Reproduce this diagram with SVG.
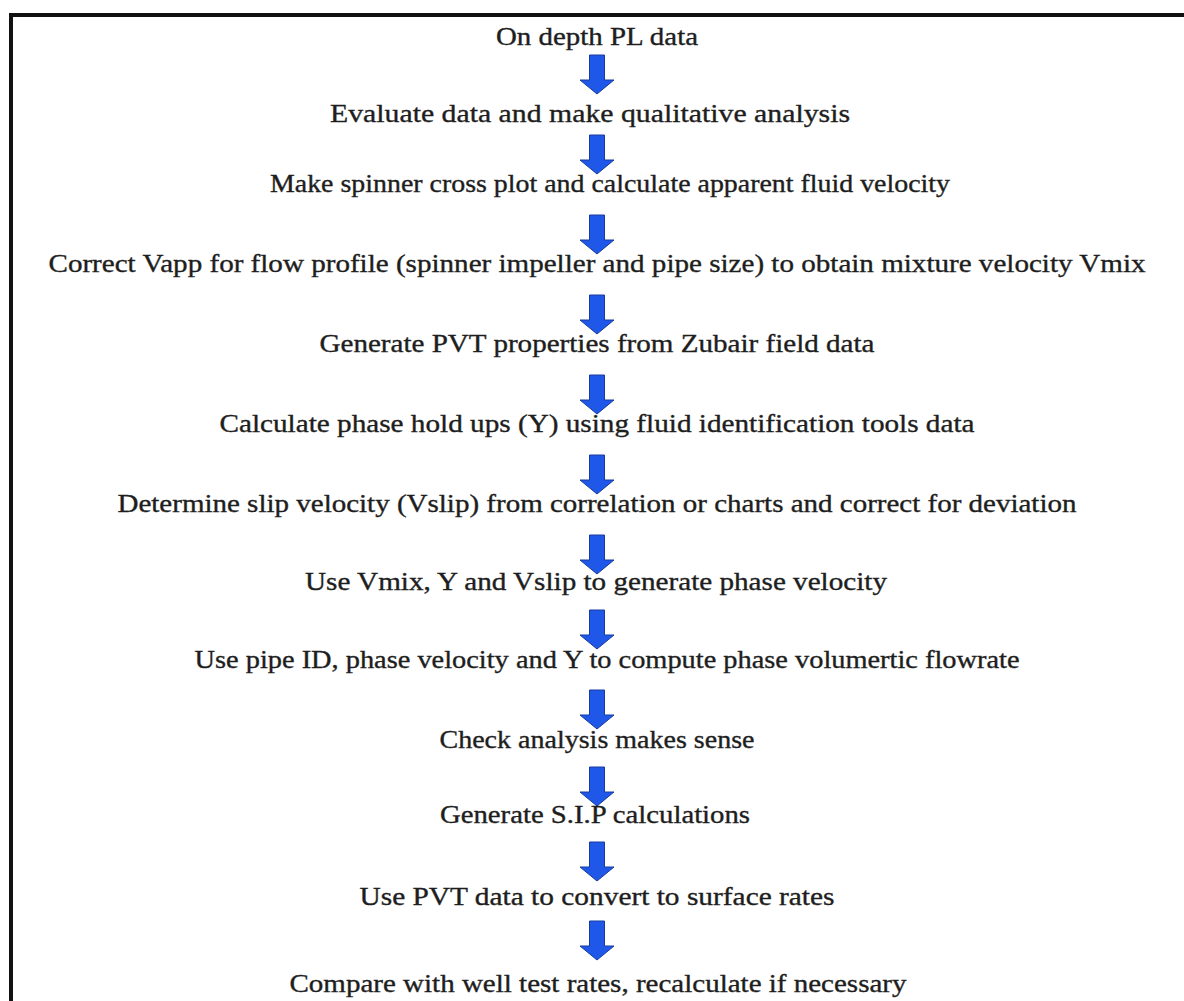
<svg xmlns="http://www.w3.org/2000/svg" width="1184" height="1001" viewBox="0 0 1184 1001">
<defs>
<style>
.t{font-family:"Liberation Serif","Times New Roman",serif;font-size:25px;fill:#1e1e1e;stroke:#1e1e1e;stroke-width:0.35;text-anchor:middle}
.a{fill:#1f57e8;stroke:#173c9e;stroke-width:1}
</style>
<path id="arr" class="a" d="M-7.5,0 H7.5 V25 H17 L0,39 L-17,25 H-7.5 Z"/>
</defs>
<rect x="0" y="0" width="1184" height="1001" fill="#ffffff"/>
<rect x="11" y="15" width="1200" height="1040" fill="none" stroke="#111" stroke-width="4"/>
<g id="connectors">
<use href="#arr" x="597" y="55"/>
<use href="#arr" x="597" y="135"/>
<use href="#arr" x="597" y="215"/>
<use href="#arr" x="597" y="295"/>
<use href="#arr" x="597" y="375"/>
<use href="#arr" x="597" y="455"/>
<use href="#arr" x="597" y="535"/>
<use href="#arr" x="597" y="610"/>
<use href="#arr" x="597" y="690"/>
<use href="#arr" x="597" y="767"/>
<use href="#arr" x="597" y="842"/>
<use href="#arr" x="597" y="921"/>
</g>
<g id="n1"><text class="t" x="597" y="45" textLength="202" lengthAdjust="spacingAndGlyphs">On depth PL data</text></g>
<g id="n2"><text class="t" x="590" y="122" textLength="520" lengthAdjust="spacingAndGlyphs">Evaluate data and make qualitative analysis</text></g>
<g id="n3"><text class="t" x="610" y="192" textLength="680" lengthAdjust="spacingAndGlyphs">Make spinner cross plot and calculate apparent fluid velocity</text></g>
<g id="n4"><text class="t" x="597" y="272" textLength="1097" lengthAdjust="spacingAndGlyphs">Correct Vapp for flow profile (spinner impeller and pipe size) to obtain mixture velocity Vmix</text></g>
<g id="n5"><text class="t" x="597" y="352" textLength="555" lengthAdjust="spacingAndGlyphs">Generate PVT properties from Zubair field data</text></g>
<g id="n6"><text class="t" x="597" y="432" textLength="755" lengthAdjust="spacingAndGlyphs">Calculate phase hold ups (Y) using fluid identification tools data</text></g>
<g id="n7"><text class="t" x="597" y="512" textLength="959" lengthAdjust="spacingAndGlyphs">Determine slip velocity (Vslip) from correlation or charts and correct for deviation</text></g>
<g id="n8"><text class="t" x="596" y="590" textLength="582" lengthAdjust="spacingAndGlyphs">Use Vmix, Y and Vslip to generate phase velocity</text></g>
<g id="n9"><text class="t" x="607" y="668" textLength="825" lengthAdjust="spacingAndGlyphs">Use pipe ID, phase velocity and Y to compute phase volumertic flowrate</text></g>
<g id="n10"><text class="t" x="597" y="748" textLength="315" lengthAdjust="spacingAndGlyphs">Check analysis makes sense</text></g>
<g id="n11"><text class="t" x="595" y="823" textLength="310" lengthAdjust="spacingAndGlyphs">Generate S.I.P calculations</text></g>
<g id="n12"><text class="t" x="597" y="905" textLength="475" lengthAdjust="spacingAndGlyphs">Use PVT data to convert to surface rates</text></g>
<g id="n13"><text class="t" x="598" y="992" textLength="617" lengthAdjust="spacingAndGlyphs">Compare with well test rates, recalculate if necessary</text></g>
</svg>
